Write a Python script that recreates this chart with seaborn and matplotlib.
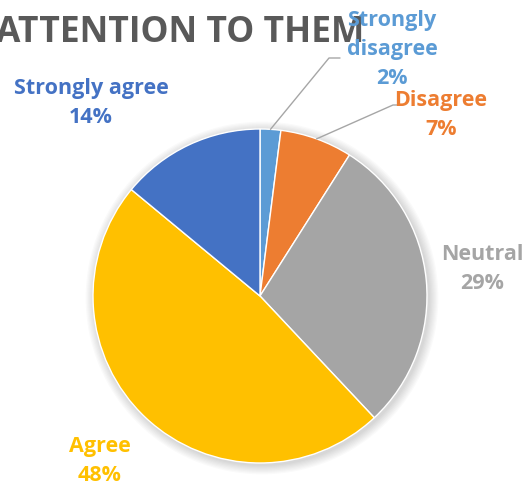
import numpy as np
import matplotlib
matplotlib.use("Agg")
import matplotlib.pyplot as plt
import seaborn as sns

# Data
categories = ['Strongly disagree', 'Disagree', 'Neutral', 'Agree', 'Strongly agree']
label_lines = ['Strongly\ndisagree\n2%', 'Disagree\n7%', 'Neutral\n29%', 'Agree\n48%', 'Strongly agree\n14%']
values = [2, 7, 29, 48, 14]
colors = ['#5B9BD5', '#ED7D31', '#A5A5A5', '#FFC000', '#4472C4']
title_text = 'ATTENTION TO THEM'

sns.set_theme(style='white')
plt.rcParams['font.family'] = ['Open Sans', 'DejaVu Sans']

W, H = 527, 490
fig = plt.figure(figsize=(W / 100, H / 100), dpi=100)
ax = fig.add_axes([0, 0, 1, 1])

cx, cy, r = 260, H - 296, 167

# soft shadow behind the pie
for i in range(8):
    ax.add_patch(plt.Circle((cx + 2, cy - 2), r + 1 + i * 1.2, color='black',
                            alpha=0.018, lw=0, zorder=0))

wedges, _ = ax.pie(values, colors=colors, startangle=90, counterclock=False,
                   center=(cx, cy), radius=r, frame=True,
                   wedgeprops=dict(edgecolor='white', linewidth=1))
ax.set_xlim(0, W)
ax.set_ylim(0, H)
ax.set_aspect('equal')
ax.axis('off')

# title first so the small-slice label sits on top of it
ax.text(-4, H - 33, title_text, ha='left', va='center', color='#595959',
        fontsize=25.5, fontweight='bold', zorder=3)

# label positions (pixel coords, y from top)
label_pos = [(392, 50), (441, 115), (482, 269), (100, 461), (91, 103)]
for w, lab, col, (lx, ly) in zip(wedges, label_lines, colors, label_pos):
    ax.text(lx, H - ly, lab, ha='center', va='center', color=col,
            fontsize=15.5, fontweight='bold', linespacing=1.5, zorder=5)

# leader lines for the two small slices
elbows = [((329, 58), (340, 58)), ((393, 105), (403, 105))]
for w, (e1, e2) in zip(wedges[:2], elbows):
    mid = np.deg2rad((w.theta1 + w.theta2) / 2)
    px, py = cx + r * np.cos(mid), cy + r * np.sin(mid)
    ax.plot([px, e1[0], e2[0]], [py, H - e1[1], H - e2[1]],
            color='#A6A6A6', lw=1, zorder=4)

fig.savefig('out.png', dpi=100)
